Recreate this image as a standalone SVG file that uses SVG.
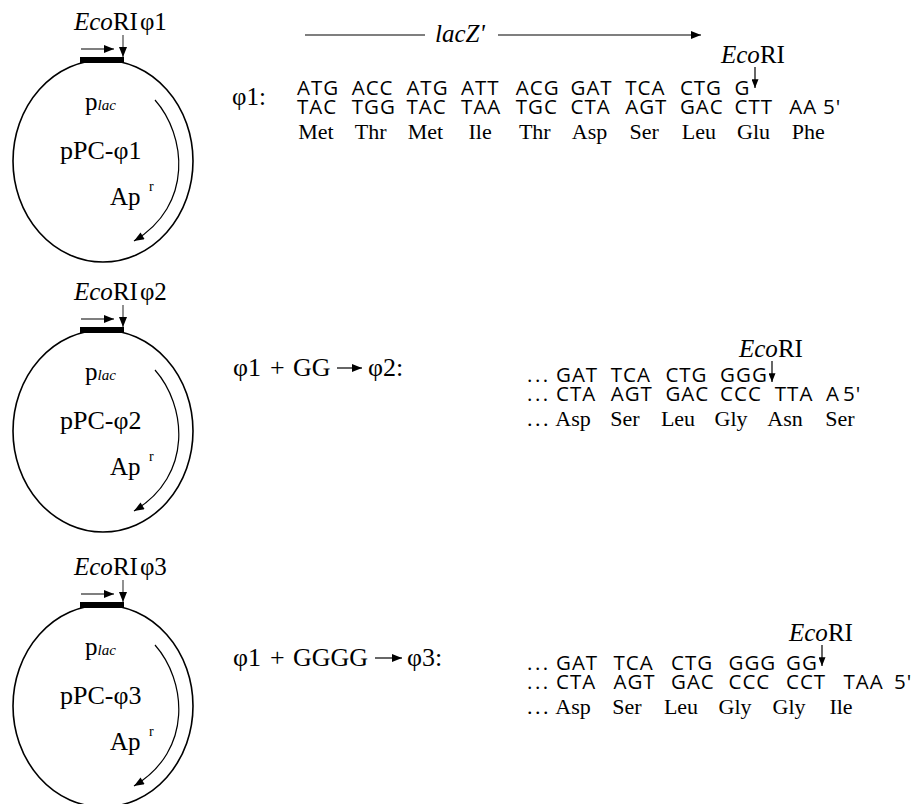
<svg xmlns="http://www.w3.org/2000/svg" width="919" height="804" viewBox="0 0 919 804">
<defs>
<style>
.serif{font-family:"Liberation Serif","Times New Roman",serif;fill:#000}
.seq{font-family:"Open Sans","DejaVu Sans",sans-serif;font-size:20.5px;letter-spacing:1px;fill:#000}
.aa{font-family:"Liberation Serif","Times New Roman",serif;font-size:22px;fill:#000}
.lab{font-size:25px}
.big{font-size:26px}
.it{font-style:italic}
.ln{stroke:#000;stroke-width:1.2;fill:none}
.gl{stroke:#555;stroke-width:1.3;fill:none}
.circ{stroke:#000;stroke-width:1.6;fill:none}
</style>
<marker id="ah" viewBox="0 0 10 8" refX="10" refY="4" markerWidth="11" markerHeight="8" markerUnits="userSpaceOnUse" orient="auto"><path d="M0,0 L10,4 L0,8 Z" fill="#000"/></marker>
<marker id="ahs" viewBox="0 0 10 8" refX="10" refY="4" markerWidth="9" markerHeight="7" markerUnits="userSpaceOnUse" orient="auto"><path d="M0,0 L10,4 L0,8 Z" fill="#000"/></marker>
<g id="plasmid">
<ellipse class="circ" cx="103" cy="161" rx="90" ry="101"/>
<rect x="80" y="57" width="44" height="6" fill="#000"/>
<path class="ln" d="M81,49 H114" marker-end="url(#ah)"/>
<path class="gl" d="M123,35 V57" marker-end="url(#ah)"/>
<path class="ln" d="M155,100 C186,135 194,205 134,241" marker-end="url(#ah)"/>
<text class="serif" x="85" y="110" font-size="25">p<tspan class="it" font-size="15">lac</tspan></text>
<text class="serif" x="110" y="205" font-size="25">Ap</text>
<text class="serif" x="149" y="191" font-size="14">r</text>
</g>
</defs>

<g id="plasmid1">
<use href="#plasmid"/>
<text class="serif lab" x="74" y="30"><tspan class="it">Eco</tspan>RI<tspan dx="2">φ1</tspan></text>
<text class="serif" x="60" y="159" font-size="26">pPC-φ1</text>
</g>
<g id="plasmid2" transform="translate(0,270)">
<use href="#plasmid"/>
<text class="serif lab" x="74" y="30"><tspan class="it">Eco</tspan>RI<tspan dx="2">φ2</tspan></text>
<text class="serif" x="60" y="159" font-size="26">pPC-φ2</text>
</g>
<g id="plasmid3" transform="translate(0,545)">
<use href="#plasmid"/>
<text class="serif lab" x="74" y="30"><tspan class="it">Eco</tspan>RI<tspan dx="2">φ3</tspan></text>
<text class="serif" x="60" y="159" font-size="26">pPC-φ3</text>
</g>

<g id="connectors">
<path class="ln" d="M305,35 H425"/>
<path class="ln" d="M498,35 H701" marker-end="url(#ah)"/>
<path class="ln" d="M755,67 V88" marker-end="url(#ahs)"/>
<path class="ln" d="M772,361 V382" marker-end="url(#ahs)"/>
<path class="ln" d="M822,645 V666" marker-end="url(#ahs)"/>
<path class="ln" stroke-width="1.6" d="M337,368 H362" marker-end="url(#ah)"/>
<path class="ln" stroke-width="1.6" d="M375,658 H402" marker-end="url(#ah)"/>
</g>

<g id="lacZ">
<text class="serif lab it" x="435" y="42">lacZ'</text>
</g>

<g id="seq1">
<text class="serif lab" x="721" y="63"><tspan class="it">Eco</tspan>RI</text>
<text class="serif lab" x="232" y="105">φ1:</text>
<text class="seq" y="94.5"><tspan x="297">ATG</tspan><tspan x="351.7">ACC</tspan><tspan x="406.4">ATG</tspan><tspan x="461.1">ATT</tspan><tspan x="515.8">ACG</tspan><tspan x="570.5">GAT</tspan><tspan x="625.2">TCA</tspan><tspan x="679.9">CTG</tspan><tspan x="734.6">G</tspan></text>
<text class="seq" y="113.5"><tspan x="297">TAC</tspan><tspan x="351.7">TGG</tspan><tspan x="406.4">TAC</tspan><tspan x="461.1">TAA</tspan><tspan x="515.8">TGC</tspan><tspan x="570.5">CTA</tspan><tspan x="625.2">AGT</tspan><tspan x="679.9">GAC</tspan><tspan x="734.6">CTT</tspan><tspan x="789.3">AA</tspan><tspan x="823">5'</tspan></text>
<text class="aa" y="138.5" text-anchor="middle"><tspan x="316">Met</tspan><tspan x="370.7">Thr</tspan><tspan x="425.4">Met</tspan><tspan x="480.1">Ile</tspan><tspan x="534.8">Thr</tspan><tspan x="589.5">Asp</tspan><tspan x="644.2">Ser</tspan><tspan x="698.9">Leu</tspan><tspan x="753.6">Glu</tspan><tspan x="808.3">Phe</tspan></text>
</g>

<g id="seq2">
<text class="serif lab" x="739" y="357"><tspan class="it">Eco</tspan>RI</text>
<text class="serif big" y="376"><tspan x="233">φ1</tspan><tspan x="270">+</tspan><tspan x="293">GG</tspan><tspan x="368">φ2:</tspan></text>
<text class="seq" y="381.5"><tspan x="527" letter-spacing="2.5">...</tspan><tspan x="556">GAT</tspan><tspan x="610.7">TCA</tspan><tspan x="665.4">CTG</tspan><tspan x="720.1">GGG</tspan></text>
<text class="seq" y="400.5"><tspan x="527" letter-spacing="2.5">...</tspan><tspan x="556">CTA</tspan><tspan x="610.7">AGT</tspan><tspan x="665.4">GAC</tspan><tspan x="720.1">CCC</tspan><tspan x="774.8">TTA</tspan><tspan x="826">A</tspan><tspan x="843">5'</tspan></text>
<text class="aa" y="425.5"><tspan x="527" letter-spacing="2.5">...</tspan></text>
<text class="aa" y="425.5" text-anchor="middle"><tspan x="573">Asp</tspan><tspan x="625">Ser</tspan><tspan x="678">Leu</tspan><tspan x="731">Gly</tspan><tspan x="785">Asn</tspan><tspan x="840">Ser</tspan></text>
</g>

<g id="seq3">
<text class="serif lab" x="789" y="641"><tspan class="it">Eco</tspan>RI</text>
<text class="serif big" y="666"><tspan x="233">φ1</tspan><tspan x="270">+</tspan><tspan x="293">GGGG</tspan><tspan x="407">φ3:</tspan></text>
<text class="seq" y="669.5"><tspan x="527" letter-spacing="2.5">...</tspan><tspan x="556">GAT</tspan><tspan x="613.5">TCA</tspan><tspan x="671">CTG</tspan><tspan x="728.5">GGG</tspan><tspan x="786">GG</tspan></text>
<text class="seq" y="688.5"><tspan x="527" letter-spacing="2.5">...</tspan><tspan x="556">CTA</tspan><tspan x="613.5">AGT</tspan><tspan x="671">GAC</tspan><tspan x="728.5">CCC</tspan><tspan x="786">CCT</tspan><tspan x="843.5">TAA</tspan><tspan x="894">5'</tspan></text>
<text class="aa" y="713.5"><tspan x="527" letter-spacing="2.5">...</tspan></text>
<text class="aa" y="713.5" text-anchor="middle"><tspan x="573">Asp</tspan><tspan x="627">Ser</tspan><tspan x="681">Leu</tspan><tspan x="735">Gly</tspan><tspan x="789">Gly</tspan><tspan x="841">Ile</tspan></text>
</g>
</svg>
